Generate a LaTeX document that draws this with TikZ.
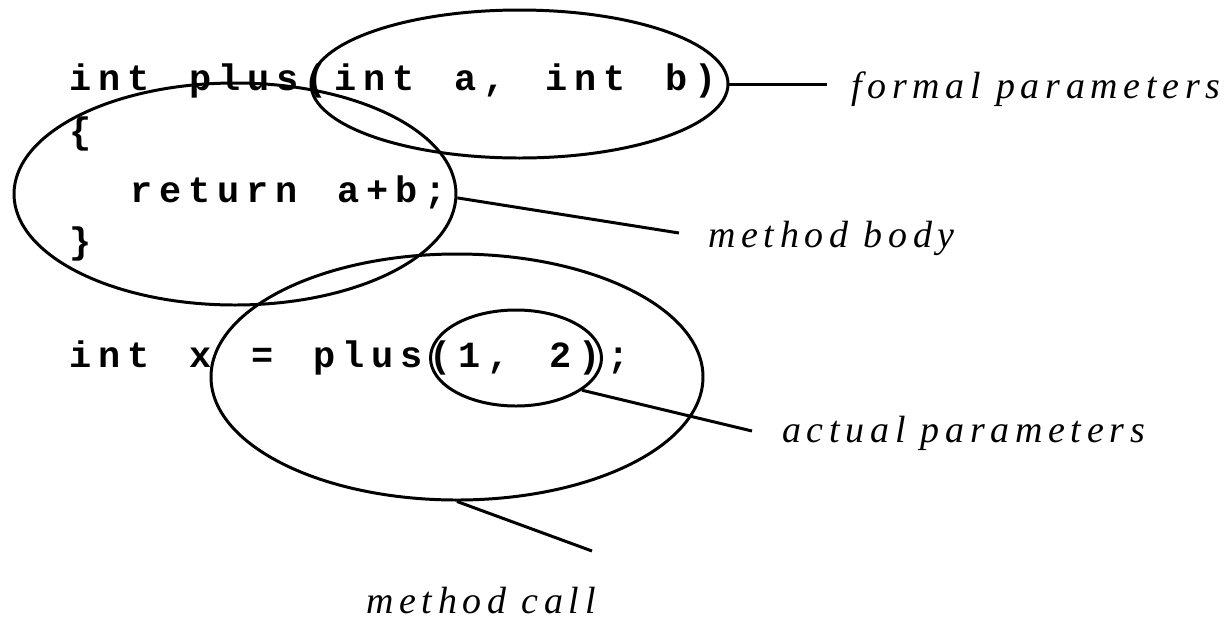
\documentclass[tikz,border=0pt]{standalone}
\usepackage{fontspec}
\usetikzlibrary{shapes.geometric}
\newfontfamily\codefont{Liberation Mono}[LetterSpace=18.5,WordSpace=1.38]
\newfontfamily\notefont{Liberation Serif}[LetterSpace=15]
\def\pxl{0.02cm}
\tikzset{
  code/.style={anchor=base west, inner sep=0pt, font=\codefont\bfseries\fontsize{21}{25}\selectfont},
  note/.style={anchor=base west, inner sep=0pt, font=\notefont\itshape\fontsize{21.6}{26}\selectfont},
  oval/.style={draw, ellipse, inner sep=0pt, line width=1.7pt},
  lead/.style={line width=1.7pt}
}

\begin{document}
\begin{tikzpicture}[x=\pxl, y=-\pxl]
	\useasboundingbox (0,0) rectangle (1228,620);
	
	%%%%% CODE %%%%%
	\node[code] (sig) at (69,90) {int plus(int a, int b)};
	\node[code] (lbrace) at (69,143) {\{};
	\node[code] (ret) at (130,202) {return a+b;};
	\node[code] (rbrace) at (69,253) {\}};
	\node[code] (call) at (69,367) {int x = plus(1, 2);};
	
	%%%%% OVALS %%%%%
	\node[oval, minimum width=417*\pxl, minimum height=148*\pxl] (formal) at (519.5,84) {};
	\node[oval, minimum width=442*\pxl, minimum height=222*\pxl] (body) at (235,194) {};
	\node[oval, minimum width=492*\pxl, minimum height=246*\pxl] (callell) at (457,377) {};
	\node[oval, minimum width=171*\pxl, minimum height=96*\pxl] (actual) at (516,358) {};
	
	%%%%% LEADERS %%%%%
	\coordinate (formalend) at (827,84);
	\coordinate (bodyend) at (679,233);
	\coordinate (actualend) at (752,431);
	\coordinate (callend) at (592,551);
	\draw[lead] (formal.east) -- (formalend);
	\draw[lead] (body.-1) -- (bodyend);
	\draw[lead] (actual.-26.6) -- (actualend);
	\draw[lead] (callell.south) -- (callend);
	
	%%%%% LABELS %%%%%
	\node[note] (formallbl) at (851,98) {formal parameters};
	\node[note] (bodylbl) at (708,247) {method body};
	\node[note] (actuallbl) at (782,442) {actual parameters};
	\node[note] (calllbl) at (366,613) {method call};
\end{tikzpicture}
\end{document}
